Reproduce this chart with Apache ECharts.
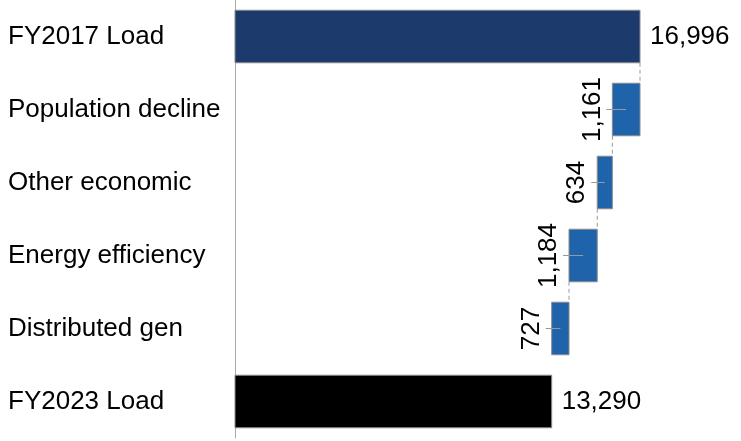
<!DOCTYPE html>
<html>
<head>
<meta charset="utf-8">
<script src="https://cdn.jsdelivr.net/npm/echarts@6/dist/echarts.min.js"></script>
<style>html,body{margin:0;padding:0;background:#fff;}#c{width:741px;height:441px;}</style>
</head>
<body>
<div id="c"></div>
<script>
var categories = ['FY2017 Load', 'Population decline', 'Other economic', 'Energy efficiency', 'Distributed gen', 'FY2023 Load'];
var values = [16996, 1161, 634, 1184, 727, 13290];
var kinds = ['total', 'decrease', 'decrease', 'decrease', 'decrease', 'total'];

var colors = { first: '#1d3a6d', decrease: '#1f63ab', last: '#000000' };
var FONT = 'Liberation Sans, Arial, sans-serif';

// build waterfall spans
var running = 0;
var spans = [];
for (var i = 0; i < values.length; i++) {
  var s, e;
  if (kinds[i] === 'total') { s = 0; e = values[i]; running = values[i]; }
  else { e = running; s = running - values[i]; running = s; }
  spans.push([s, e, i, values[i]]);
}

function fmt(v) { return v.toLocaleString('en-US'); }

var chart = echarts.init(document.getElementById('c'), null, { renderer: 'canvas' });
chart.setOption({
  animation: false,
  backgroundColor: '#ffffff',
  grid: { left: 235, top: -2, bottom: 3, width: 476.6 },
  xAxis: { type: 'value', min: 0, max: 20000, show: false },
  yAxis: {
    type: 'category', inverse: true, data: categories,
    axisLine: { show: true, lineStyle: { color: '#aaaaaa', width: 1 } },
    axisTick: { show: false },
    splitLine: { show: false },
    axisLabel: { fontSize: 26, fontFamily: FONT, color: '#000', align: 'left', margin: 227 }
  },
  series: [{
    type: 'custom',
    clip: false,
    data: spans,
    encode: { x: [0, 1], y: 2 },
    renderItem: function (params, api) {
      var idx = api.value(2);
      var s = api.value(0), e = api.value(1), v = api.value(3);
      var p0 = api.coord([s, idx]);
      var p1 = api.coord([e, idx]);
      var band = api.size([0, 1])[1];
      var h = band * 0.72;
      var cy = p0[1];
      var kind = kinds[idx];
      var fill = kind === 'total' ? (idx === 0 ? colors.first : colors.last) : colors.decrease;
      var children = [{
        type: 'rect',
        shape: { x: p0[0], y: cy - h / 2, width: p1[0] - p0[0], height: h },
        style: { fill: fill, stroke: '#8c8c8c', lineWidth: 1 }
      }];
      if (kind === 'total') {
        children.push({
          type: 'text',
          x: p1[0] + 10, y: cy,
          style: { text: fmt(v), font: '26px ' + FONT, fill: '#000', align: 'left', verticalAlign: 'middle' }
        });
      } else {
        // connector from previous bar bottom
        var prevY = api.coord([e, idx - 1])[1];
        children.push({
          type: 'line',
          shape: { x1: p1[0], y1: prevY + h / 2, x2: p1[0], y2: cy - h / 2 },
          style: { stroke: '#999999', lineWidth: 1, lineDash: [4, 3] }
        });
        // tick line
        children.push({
          type: 'line',
          shape: { x1: p0[0] - 6, y1: cy, x2: (p0[0] + p1[0]) / 2, y2: cy },
          style: { stroke: '#999999', lineWidth: 1 }
        });
        children.push({
          type: 'text',
          x: p0[0] - 20, y: cy, rotation: Math.PI / 2,
          style: { text: fmt(v), font: '26px ' + FONT, fill: '#000', align: 'center', verticalAlign: 'middle' }
        });
      }
      return { type: 'group', children: children };
    }
  }]
});
</script>
</body>
</html>
